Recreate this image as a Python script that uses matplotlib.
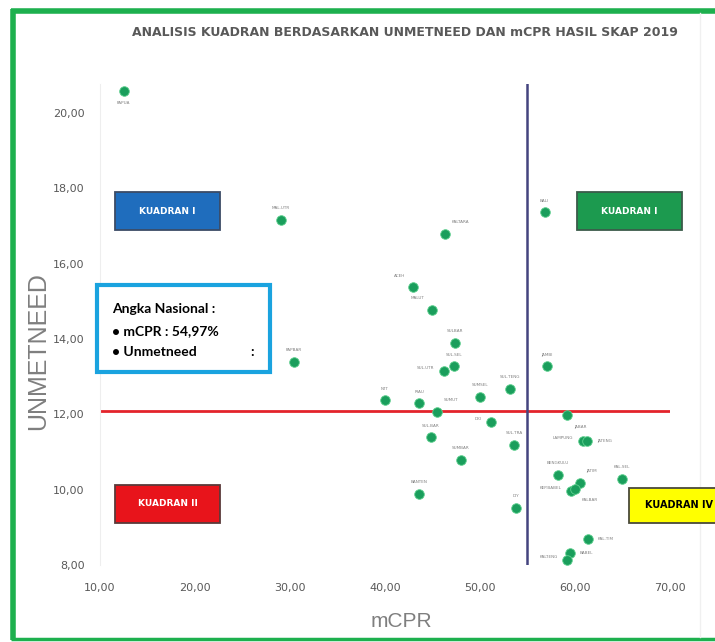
import matplotlib
matplotlib.use("Agg")
import matplotlib.pyplot as plt
from matplotlib.patches import Rectangle
from matplotlib.lines import Line2D
from matplotlib.ticker import FuncFormatter

# ---------------- data ----------------
provinces = ["PAPUA", "MAL.UTR", "KALTARA", "ACEH", "MALUT", "SULBAR", "SUL.SEL", "SUL.UTR",
             "PAPBAR", "NTT", "RIAU", "SUMUT", "SUMSEL", "SUL.TENG", "DKI", "SUL.BAR",
             "SUMBAR", "SUL.TRA", "BANTEN", "DIY", "BALI", "JAMBI", "JABAR", "LAMPUNG",
             "JATENG", "BENGKULU", "JATIM", "KEP.BABEL", "KALBAR", "KAL.SEL", "KAL.TIM",
             "BABEL", "KALTENG"]
mcpr = [12.5, 29.0, 46.3, 42.9, 44.9, 47.4, 47.3, 46.2,
        30.4, 40.0, 43.6, 45.5, 50.0, 53.2, 51.2, 44.8,
        48.0, 53.6, 43.6, 53.8, 56.8, 57.0, 59.2, 60.8,
        61.3, 58.2, 60.5, 59.6, 60.0, 64.9, 61.4,
        59.5, 59.2]
unmetneed = [20.58, 17.17, 16.79, 15.37, 14.77, 13.89, 13.27, 13.16,
             13.40, 12.37, 12.29, 12.07, 12.46, 12.68, 11.79, 11.39,
             10.79, 11.19, 9.89, 9.52, 17.36, 13.27, 11.97, 11.30,
             11.30, 10.40, 10.19, 9.97, 10.03, 10.29, 8.69,
             8.33, 8.14]
# label placement: 'a' above, 'b' below, 'l' left, 'r' right
label_pos = ["b", "a", "ar", "al", "al", "a", "a", "l",
             "a", "a", "a", "ar", "a", "a", "l", "a",
             "a", "a", "a", "a", "a", "a", "br", "l",
             "r", "a", "ar", "l", "br", "a", "r",
             "r", "l"]

national_mcpr = 54.97
national_unmetneed = 12.1
x_ticks = [10, 20, 30, 40, 50, 60, 70]
y_ticks = [8, 10, 12, 14, 16, 18, 20]

# ---------------- figure ----------------
W, H = 715, 642
fig = plt.figure(figsize=(W / 100, H / 100), dpi=100)
fig.patch.set_facecolor("white")

ax = fig.add_axes([100 / W, 1 - 565 / H, 570 / W, (565 - 84) / H])
ax.set_xlim(10, 70)
ax.set_ylim(8, 20.77)

gray = "#595959"

for s in ["top", "right", "bottom"]:
    ax.spines[s].set_visible(False)
ax.spines["left"].set_color("#eeeeee")
ax.spines["left"].set_linewidth(0.8)

ax.set_xticks(x_ticks)
ax.set_yticks(y_ticks)
fmt = FuncFormatter(lambda v, p: f"{v:.2f}".replace(".", ","))
ax.xaxis.set_major_formatter(fmt)
ax.yaxis.set_major_formatter(fmt)
ax.tick_params(axis="both", length=0, labelsize=8, labelcolor=gray)
ax.tick_params(axis="y", pad=11)
ax.tick_params(axis="x", pad=13)

ax.set_xlabel("mCPR", fontsize=15, color="#7f7f7f", family="Liberation Sans")
ax.xaxis.set_label_coords(301 / 570, -47 / 481)
ax.set_ylabel("UNMETNEED", fontsize=18, color="#7f7f7f", family="Liberation Sans")
ax.yaxis.set_label_coords(-50 / 570, 0.445)

# reference lines
ax.plot([10, 70], [national_unmetneed, national_unmetneed], color="#e3242b", lw=2.0, zorder=2)
ax.plot([national_mcpr, national_mcpr], [8, 20.77], color="#44447f", lw=1.8, zorder=2)

# points
ax.scatter(mcpr, unmetneed, s=48, color="#1a9e5c", edgecolors="#5fd08f", linewidths=0.6, zorder=4)

offsets = {"a": (0, 7, "center", "bottom"), "b": (0, -7, "center", "top"),
           "l": (-7, 2, "right", "center"), "r": (7, 0, "left", "center"),
           "ar": (5, 7, "left", "bottom"), "al": (-5, 7, "right", "bottom"),
           "br": (5, -7, "left", "top")}
for name, x, y, p in zip(provinces, mcpr, unmetneed, label_pos):
    dx, dy, ha, va = offsets[p]
    ax.annotate(name, (x, y), xytext=(dx, dy), textcoords="offset points",
                ha=ha, va=va, fontsize=3, color="#808080", zorder=5)

# quadrant boxes (figure pixel geometry)
def fig_box(x0, y0, x1, y1, fc, ec, text, tc, fs, tx=None):
    r = Rectangle((x0 / W, 1 - y1 / H), (x1 - x0) / W, (y1 - y0) / H,
                  transform=fig.transFigure, facecolor=fc, edgecolor=ec, lw=1.3,
                  zorder=6, clip_on=False)
    fig.add_artist(r)
    cx = (x0 + x1) / 2 if tx is None else tx
    fig.text(cx / W, 1 - (y0 + y1) / 2 / H, text, ha="center" if tx is None else "left",
             va="center", color=tc, fontsize=fs, fontweight="bold", zorder=7)

fig_box(115, 192, 220, 230, "#1f6dbd", "#3b4b66", "KUADRAN I", "white", 6.5)
fig_box(577, 192, 682, 230, "#1c9a4f", "#3b5b4a", "KUADRAN I", "white", 6.5)
fig_box(115, 485, 220, 523, "#e8141b", "#5a3a3a", "KUADRAN II", "white", 6.5)
fig_box(629, 488, 730, 523, "#ffff00", "#4a4a3a", "KUADRAN IV", "black", 7, tx=645)

# national info box
info = Rectangle((97 / W, 1 - 372 / H), 173 / W, 87 / H, transform=fig.transFigure,
                 facecolor="white", edgecolor="#1aa3df", lw=3, zorder=6)
fig.add_artist(info)
bold_font = ["Lato", "DejaVu Sans"]
fs_info = 10
fig.text(112 / W, 1 - 309 / H, "Angka Nasional :", fontsize=fs_info, fontweight="bold",
         family=bold_font, va="center", zorder=7)
fig.text(112 / W, 1 - 331 / H, "\u2022 mCPR : 54,97%", fontsize=fs_info, fontweight="bold",
         family=bold_font, va="center", zorder=7)
fig.text(112 / W, 1 - 352 / H, "\u2022 Unmetneed", fontsize=fs_info, fontweight="bold",
         family=bold_font, va="center", zorder=7)
fig.text(250 / W, 1 - 352 / H, ":", fontsize=fs_info, fontweight="bold",
         family=bold_font, va="center", zorder=7)

# title
fig.text(405 / W, 1 - 32 / H, "ANALISIS KUADRAN BERDASARKAN UNMETNEED DAN mCPR HASIL SKAP 2019",
         ha="center", va="center", fontsize=9, fontweight="bold", color=gray)

# green frame
frame = "#1db04e"
fig.add_artist(Line2D([13 / W, 13 / W], [1 - 640 / H, 1 - 9 / H], color=frame, lw=4,
                      transform=fig.transFigure, solid_capstyle="butt"))
fig.add_artist(Line2D([11 / W, 1], [1 - 11 / H, 1 - 11 / H], color=frame, lw=4,
                      transform=fig.transFigure, solid_capstyle="butt"))
fig.add_artist(Line2D([11 / W, 1], [1 - 638.5 / H, 1 - 638.5 / H], color=frame, lw=2.5,
                      transform=fig.transFigure, solid_capstyle="butt"))
fig.add_artist(Line2D([700 / W, 700 / W], [1 - 637 / H, 1 - 13 / H], color="#f0f0f0", lw=1,
                      transform=fig.transFigure))

fig.savefig("out.png", dpi=100, facecolor="white")
